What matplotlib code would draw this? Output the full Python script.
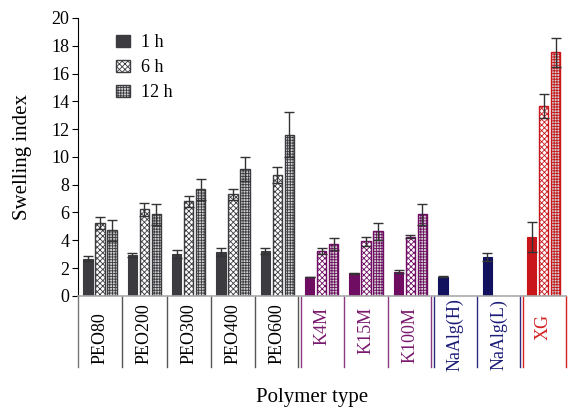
import matplotlib
matplotlib.use('Agg')
import matplotlib.pyplot as plt
from matplotlib.transforms import blended_transform_factory
import numpy as np

plt.rcParams['font.family'] = ['Liberation Serif', 'DejaVu Serif']
plt.rcParams['hatch.linewidth'] = 0.6

polymers = ['PEO80', 'PEO200', 'PEO300', 'PEO400', 'PEO600',
            'K4M', 'K15M', 'K100M', 'NaAlg(H)', 'NaAlg(L)', 'XG']
series = ['1 h', '6 h', '12 h']

# swelling index, nan = not measured
h1 = [2.67, 2.91, 3.0, 3.15, 3.2, 1.37, 1.61, 1.73, 1.37, 2.79, 4.23]
h6 = [5.24, 6.22, 6.8, 7.3, 8.72, 3.22, 3.92, 4.25, np.nan, np.nan, 13.67]
h12 = [4.71, 5.86, 7.66, 9.13, 11.6, 3.7, 4.64, 5.86, np.nan, np.nan, 17.54]
e1 = [0.19, 0.14, 0.27, 0.26, 0.21, 0.0, 0.06, 0.1, 0.05, 0.31, 1.06]
e6 = [0.41, 0.48, 0.4, 0.39, 0.57, 0.2, 0.31, 0.12, np.nan, np.nan, 0.89]
e12 = [0.77, 0.77, 0.73, 0.84, 1.61, 0.43, 0.62, 0.77, np.nan, np.nan, 1.05]

group_col = ['#3b3b40'] * 5 + ['#6e0d62'] * 3 + ['#12125e'] * 2 + ['#c8161b']
label_col = ['black'] * 5 + ['#7a1a6e'] * 3 + ['#1d1d78'] * 2 + ['#d42020']
sep_col = ['#555555'] * 5 + ['#8a3a80'] * 3 + ['#2a2a80'] * 2 + ['#d42020']

fig = plt.figure(figsize=(5.68, 4.08), dpi=100)
ax = fig.add_axes([0.137, 0.275, 0.859, 0.681])

x = np.arange(len(polymers)) + 0.5
w = 0.21
off = [-0.27, 0.0, 0.27]
vals = [h1, h6, h12]
errs = [e1, e6, e12]
hatch6 = 'xxxxxx'
hatch12 = '++++++'

for i in range(len(polymers)):
    c = group_col[i]
    for k in range(3):
        v = vals[k][i]
        if np.isnan(v):
            continue
        xx = x[i] + off[k]
        if k == 0:
            ax.bar(xx, v, w, color=c, edgecolor=c, linewidth=0.8)
        elif k == 1:
            ax.bar(xx, v, w, color='white', edgecolor=c, hatch=hatch6, linewidth=1.0)
        else:
            ax.bar(xx, v, w, color='#d0d0d0', edgecolor=c, hatch=hatch12, linewidth=1.0)
        ax.errorbar(xx, v, yerr=errs[k][i], fmt='none', ecolor='#333333',
                    elinewidth=1.0, capsize=3.5, capthick=1.0)

# legend proxies
h_a = ax.bar([0], [0], 0, color=group_col[0], edgecolor=group_col[0], label=series[0])
h_b = ax.bar([0], [0], 0, color='white', edgecolor=group_col[0], hatch=hatch6, label=series[1])
h_c = ax.bar([0], [0], 0, color='#d0d0d0', edgecolor=group_col[0], hatch=hatch12, label=series[2])
ax.legend(handles=[h_a, h_b, h_c], loc='upper left', bbox_to_anchor=(0.045, 1.0),
          frameon=False, fontsize=13, handlelength=0.8, handleheight=0.7,
          handletextpad=0.6, labelspacing=0.45)

ax.set_xlim(0, len(polymers))
ax.set_ylim(0, 20)
ax.set_yticks(np.arange(0, 21, 2))
ax.tick_params(axis='y', labelsize=13, direction='out', length=4, width=0.8, pad=2)
ax.set_xticks([])
for s in ['top', 'right']:
    ax.spines[s].set_visible(False)
ax.spines['bottom'].set_color('#aaaaaa')
ax.spines['bottom'].set_linewidth(1.2)
ax.spines['left'].set_linewidth(0.8)
ax.set_ylabel('Swelling index', fontsize=15, labelpad=14)

# category label area below the axis
tr = blended_transform_factory(ax.transData, ax.transAxes)
ybot = -0.255
for i in range(len(polymers) + 1):
    if i == 0:
        cols = ['#777777']
    elif i == len(polymers):
        cols = [sep_col[-1]]
    elif sep_col[i - 1] != sep_col[i]:
        cols = [sep_col[i - 1], sep_col[i]]
    else:
        cols = [sep_col[i]]
    for j, c in enumerate(cols):
        xx = i + (j - (len(cols) - 1) / 2) * 0.06
        ax.plot([xx, xx], [0, ybot], color=c, lw=1.0, transform=tr, clip_on=False)

lab_pos = {'PEO': (-0.246, 'bottom'), 'K': (-0.041, 'top'),
           'Na': (-0.138, 'center'), 'XG': (-0.113, 'center')}
for i, name in enumerate(polymers):
    key = 'PEO' if name.startswith('PEO') else 'Na' if name.startswith('Na') else 'XG' if name == 'XG' else 'K'
    yy, va = lab_pos[key]
    ax.text(x[i], yy, name, rotation=90, ha='center', va=va, fontsize=13,
            color=label_col[i], transform=tr)

fig.text(0.55, 0.025, 'Polymer type', ha='center', va='center', fontsize=15)

fig.savefig('out.png', dpi=100)
